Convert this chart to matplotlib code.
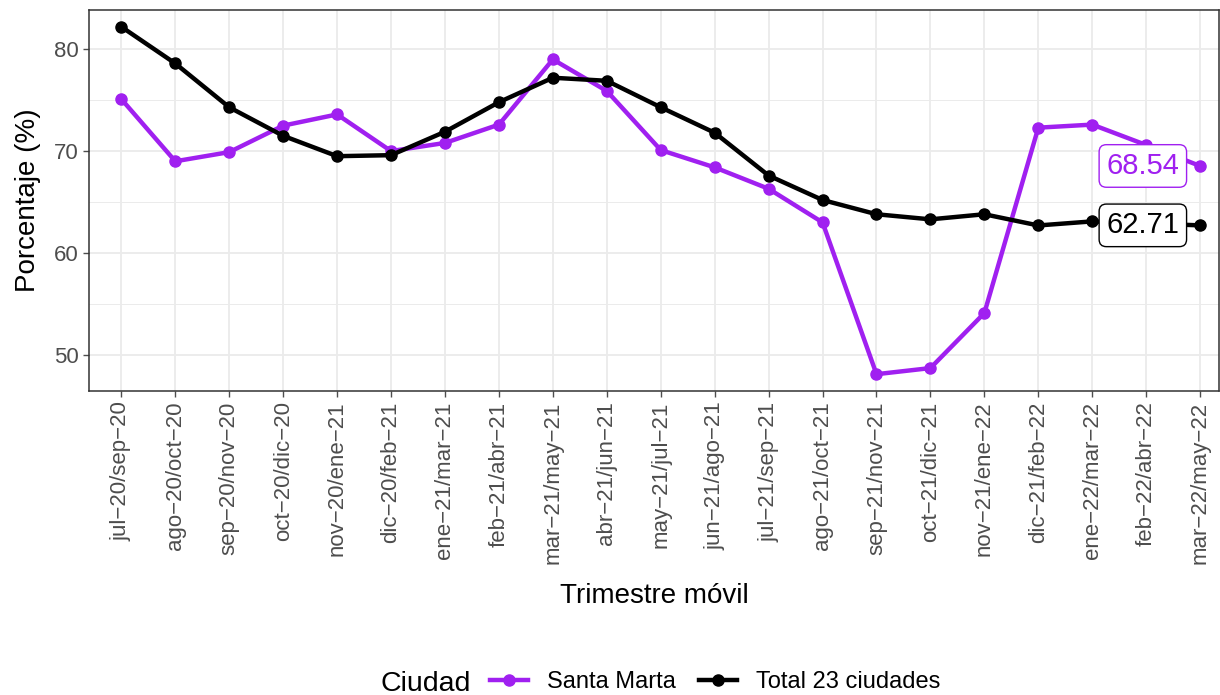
import matplotlib.pyplot as plt
import numpy as np

plt.rcParams['font.family'] = ['Liberation Sans', 'DejaVu Sans']

trimestres = ['jul-20/sep-20', 'ago-20/oct-20', 'sep-20/nov-20', 'oct-20/dic-20',
              'nov-20/ene-21', 'dic-20/feb-21', 'ene-21/mar-21', 'feb-21/abr-21',
              'mar-21/may-21', 'abr-21/jun-21', 'may-21/jul-21', 'jun-21/ago-21',
              'jul-21/sep-21', 'ago-21/oct-21', 'sep-21/nov-21', 'oct-21/dic-21',
              'nov-21/ene-22', 'dic-21/feb-22', 'ene-22/mar-22', 'feb-22/abr-22',
              'mar-22/may-22']
santa_marta = [75.1, 69.0, 69.9, 72.5, 73.6, 70.0, 70.8, 72.6, 79.0, 75.9, 70.1,
               68.4, 66.3, 63.0, 48.1, 48.7, 54.1, 72.3, 72.6, 70.6, 68.54]
total_23 = [82.2, 78.6, 74.3, 71.5, 69.5, 69.6, 71.9, 74.8, 77.2, 76.9, 74.3,
            71.8, 67.6, 65.2, 63.8, 63.3, 63.8, 62.7, 63.1, 62.9, 62.71]

morado = '#A020F0'
x = np.arange(len(trimestres))

fig = plt.figure(figsize=(12.2, 6.95), dpi=100)
ax = fig.add_axes([89 / 1220, 1 - 391 / 695, 1130 / 1220, 381 / 695])

ax.plot(x, santa_marta, color=morado, lw=3.2, marker='o', ms=8, label='Santa Marta', zorder=3)
ax.plot(x, total_23, color='black', lw=3.2, marker='o', ms=8, label='Total 23 ciudades', zorder=3)

# etiquetas del ultimo valor
for serie, col in [(santa_marta, morado), (total_23, 'black')]:
    ax.annotate('%.2f' % serie[-1], (x[-1], serie[-1]), xytext=(-15, 0),
                textcoords='offset points', ha='right', va='center', fontsize=21, color=col,
                bbox=dict(boxstyle='round,pad=0.25,rounding_size=0.25', fc='white', ec=col, lw=1),
                zorder=4)

ax.set_yticks([50, 60, 70, 80])
ax.set_yticks([55, 65, 75], minor=True)
ax.set_xticks(x)
ax.set_xticklabels([t.replace('-', '\u2212') for t in trimestres], rotation=90)
ax.set_xlim(-0.6, len(trimestres) - 1 + 0.35)
ax.set_ylim(46.45, 83.85)
ax.tick_params(axis='both', labelsize=16, colors='#4D4D4D', length=4, width=1)
ax.tick_params(axis='y', which='minor', length=0)
ax.grid(True, which='major', color='#EBEBEB', lw=1.3)
ax.grid(True, which='minor', axis='y', color='#EBEBEB', lw=0.7)
ax.set_axisbelow(True)
for s in ax.spines.values():
    s.set_color('#333333')
    s.set_linewidth(1.1)

ax.set_xlabel('Trimestre móvil', fontsize=20, labelpad=14)
ax.set_ylabel('Porcentaje (%)', fontsize=20, labelpad=9)

fig.text(380 / 1220, 1 - 684 / 695, 'Ciudad', fontsize=20.5, va='center', ha='left')
handles, labels = ax.get_legend_handles_labels()
fig.legend(handles, labels, loc='center left', bbox_to_anchor=(490 / 1220, 1 - 682 / 695),
           ncol=2, frameon=False, fontsize=17, handlelength=1.6, columnspacing=1.0,
           handletextpad=0.8, borderpad=0, borderaxespad=0)

fig.savefig('out.png', dpi=100)
